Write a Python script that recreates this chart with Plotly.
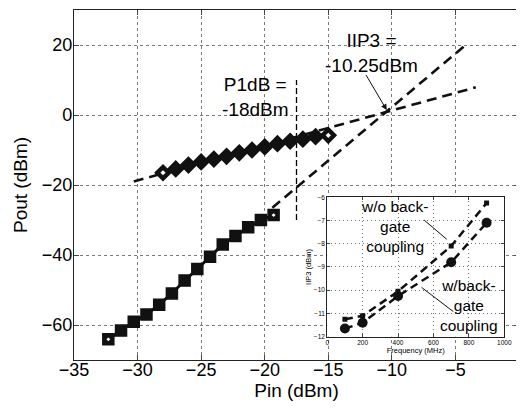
import plotly.graph_objects as go

# ---------------- main chart data ----------------
pin_fund = [-28, -27, -26, -25, -24, -23, -22, -21, -20, -19, -18, -17, -16, -15]
pout_fund = [-16.5, -15.4, -14.3, -13.4, -12.6, -11.8, -10.8, -10.0, -9.1, -8.2, -7.5, -6.9, -6.2, -5.8]

pin_im3 = [-32.3, -31.3, -30.3, -29.3, -28.3, -27.3, -26.3, -25.3, -24.3, -23.3, -22.3, -21.3, -20.3, -19.3]
pout_im3 = [-64.1, -61.6, -59.1, -57.0, -54.2, -51.0, -47.3, -44.0, -40.5, -37.0, -34.6, -32.1, -30.0, -28.6]

fund_ext_pin = [-30.3, -3.4]
fund_ext_pout = [-19.0, 7.9]
im3_ext_pin = [-19.4, -4.0]
im3_ext_pout = [-26.5, 20.6]

p1db_pin = [-17.5, -17.5]
p1db_pout = [-30, 10]
iip3_pin, iip3_pout = -10.4, 1.4

x_ticks = [-35, -30, -25, -20, -15, -10, -5, 0]
y_ticks = [-60, -40, -20, 0, 20]

# ---------------- inset data ----------------
freq = [100, 200, 400, 700, 900]
iip3_wo = [-11.25, -11.1, -10.05, -8.1, -6.25]
iip3_w = [-11.65, -11.4, -10.25, -8.8, -7.1]
inset_x_ticks = [0, 200, 400, 600, 800, 1000]
inset_y_ticks = [-12, -11, -10, -9, -8, -7, -6]

FONT = "Liberation Sans, Arial, Helvetica, sans-serif"
BLACK = "#111111"

fig = go.Figure()

fig.add_trace(go.Scatter(x=fund_ext_pin, y=fund_ext_pout, mode="lines",
                         line=dict(color=BLACK, width=2.6, dash="10px,6px"),
                         showlegend=False, hoverinfo="skip"))
fig.add_trace(go.Scatter(x=im3_ext_pin, y=im3_ext_pout, mode="lines",
                         line=dict(color=BLACK, width=2.6, dash="10px,6px"),
                         showlegend=False, hoverinfo="skip"))
fig.add_trace(go.Scatter(x=p1db_pin, y=p1db_pout, mode="lines",
                         line=dict(color="black", width=1.3, dash="6px,3px"),
                         showlegend=False, hoverinfo="skip"))

fig.add_trace(go.Scatter(x=pin_fund, y=pout_fund, mode="lines+markers",
                         line=dict(color=BLACK, width=3),
                         marker=dict(symbol="diamond", size=12, color=BLACK,
                                     line=dict(color=BLACK, width=1.5)),
                         showlegend=False))
fig.add_trace(go.Scatter(x=pin_im3, y=pout_im3, mode="lines+markers",
                         line=dict(color=BLACK, width=3),
                         marker=dict(symbol="square", size=11, color=BLACK,
                                     line=dict(color=BLACK, width=1.5)),
                         showlegend=False))
fig.add_trace(go.Scatter(x=[pin_fund[0], pin_fund[-1]], y=[pout_fund[0], pout_fund[-1]],
                         mode="markers", marker=dict(symbol="diamond", size=4, color="white"),
                         showlegend=False, hoverinfo="skip"))
fig.add_trace(go.Scatter(x=[pin_im3[0], pin_im3[-1]], y=[pout_im3[0], pout_im3[-1]],
                         mode="markers", marker=dict(symbol="diamond", size=3, color="white"),
                         showlegend=False, hoverinfo="skip"))

fig.add_trace(go.Scatter(x=freq, y=iip3_wo, mode="lines+markers", xaxis="x2", yaxis="y2",
                         line=dict(color=BLACK, width=2.5, dash="8px,5px"),
                         marker=dict(symbol="square", size=5, color=BLACK),
                         showlegend=False))
fig.add_trace(go.Scatter(x=freq, y=iip3_w, mode="lines+markers", xaxis="x2", yaxis="y2",
                         line=dict(color=BLACK, width=2.5, dash="8px,5px"),
                         marker=dict(symbol="circle", size=10, color=BLACK),
                         showlegend=False))

axis_common = dict(showline=True, linecolor="#222222", linewidth=1.3, mirror="ticks",
                   ticks="inside", ticklen=5, tickcolor="#444444",
                   showgrid=True, gridcolor="#7a7a7a", gridwidth=1.2, griddash="dot",
                   zeroline=False, tickfont=dict(family=FONT, size=18, color="black"))

inset_common = dict(showline=True, linecolor="#222222", linewidth=1, mirror="ticks",
                    ticks="inside", ticklen=3, tickcolor="#444444",
                    showgrid=True, gridcolor="#6e6e6e", gridwidth=1, griddash="1px,3px",
                    zeroline=False, tickfont=dict(family=FONT, size=6.5, color="black"))

# the page body has an 8px margin, so the figure is drawn 8px smaller
fig.update_layout(
    template="none",
    width=516, height=402,
    margin=dict(l=66, r=5, t=2, b=50),
    paper_bgcolor="white", plot_bgcolor="white",
    font=dict(family=FONT, color="black"),
    xaxis=dict(range=[-35, 0], tickvals=x_ticks, domain=[0, 1], ticklabelstandoff=-7,
               title=dict(text="Pin (dBm)", font=dict(family=FONT, size=19), standoff=0),
               **axis_common),
    yaxis=dict(range=[-70, 30], tickvals=y_ticks, domain=[0, 1], ticklabelstandoff=-3,
               title=dict(text="Pout (dBm)", font=dict(family=FONT, size=19), standoff=9),
               **axis_common),
    xaxis2=dict(range=[0, 1000], tickvals=inset_x_ticks, domain=[0.569, 0.967], anchor="y2",
                title=dict(text="Frequency (MHz)", font=dict(family=FONT, size=7.5), standoff=1),
                **inset_common),
    yaxis2=dict(range=[-12, -6], tickvals=inset_y_ticks, domain=[0.0666, 0.465], anchor="x2",
                title=dict(text="IIP3 (dBm)", font=dict(family=FONT, size=7.5), standoff=1),
                **inset_common),
)

fig.add_shape(type="line", xref="x2", yref="y2", x0=547, y0=-6.98, x1=675, y1=-7.81,
              line=dict(color=BLACK, width=1))
fig.add_shape(type="line", xref="x2", yref="y2", x0=533, y0=-9.88, x1=712, y1=-10.92,
              line=dict(color=BLACK, width=1))

annotations = [
    dict(x=-20.74, y=5.1, xref="x", yref="y", text="P1dB =<br>-18dBm", showarrow=False,
         font=dict(family=FONT, size=19), align="center"),
    dict(x=-11.58, y=17.8, xref="x", yref="y", text="IIP3 =<br>-10.25dBm", showarrow=False,
         font=dict(family=FONT, size=19), align="center"),
    dict(x=iip3_pin, y=iip3_pout, xref="x", yref="y", text="", showarrow=True,
         ax=-21.7, ay=-36.7, arrowhead=2, arrowsize=1.2, arrowwidth=1, arrowcolor=BLACK),
    dict(x=380, y=-7.24, xref="x2", yref="y2", text="w/o back-<br>gate<br>coupling",
         showarrow=False, font=dict(family=FONT, size=15.5), align="center"),
    dict(x=800, y=-10.64, xref="x2", yref="y2", text="w/back-<br>gate<br>coupling",
         showarrow=False, font=dict(family=FONT, size=15.5), align="center"),
]
fig.update_layout(annotations=annotations)

fig.write_html("out.html")
